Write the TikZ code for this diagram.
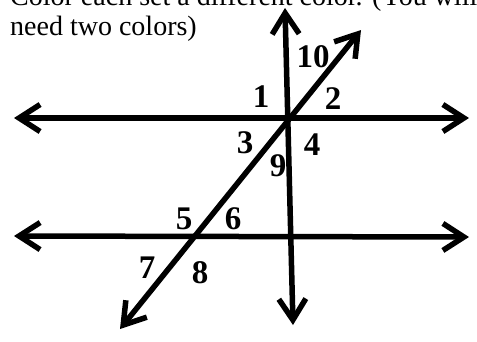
\documentclass[tikz,border=0pt]{standalone}
\usepackage{fontspec}
\setmainfont{Liberation Serif}
\usetikzlibrary{arrows.meta}

\tikzset{
    rayline/.style={line width=5.5pt,
        {Straight Barb[length=21pt,width=27pt]}-{Straight Barb[length=21pt,width=27pt]}},
    anglenum/.style={font=\bfseries\fontsize{33}{33}\selectfont, inner sep=0pt},
    task/.style={font=\fontsize{28}{30}\selectfont, anchor=base west, inner sep=0pt}
}

\begin{document}
\begin{tikzpicture}[x=1pt,y=-1pt]

\useasboundingbox (0,0) rectangle (477,341);

% Instructions (first line cut off at the top)
\begin{scope}
\clip (0,0) rectangle (477,341);
\node[task] (task1) at (10,5) {Color each set a different color. (You will};
\node[task] (task2) at (10,35) {need two colors)};
\end{scope}

% End points of the lines
\coordinate (topL) at (14,118);
\coordinate (topR) at (469,118);
\coordinate (botL) at (14,236);
\coordinate (botR) at (469,237);
\coordinate (vertT) at (285,8);
\coordinate (vertB) at (293,325);
\coordinate (transT) at (361,30);
\coordinate (transB) at (120,329);

% Parallel lines
\draw[rayline] (topL) -- (topR);
\draw[rayline] (botL) -- (botR);

% Transversals
\draw[rayline] (vertB) -- (vertT);
\draw[rayline] (transB) -- (transT);

% Angle numbers
\node[anglenum] (a1) at (261,97) {1};
\node[anglenum] (a2) at (333,99) {2};
\node[anglenum] (a3) at (245,143) {3};
\node[anglenum] (a4) at (312,145) {4};
\node[anglenum] (a5) at (184,219) {5};
\node[anglenum] (a6) at (233,219) {6};
\node[anglenum] (a7) at (147,268) {7};
\node[anglenum] (a8) at (200,273) {8};
\node[anglenum] (a9) at (278,166) {9};
\node[anglenum] (a10) at (313,57) {10};

\end{tikzpicture}
\end{document}
